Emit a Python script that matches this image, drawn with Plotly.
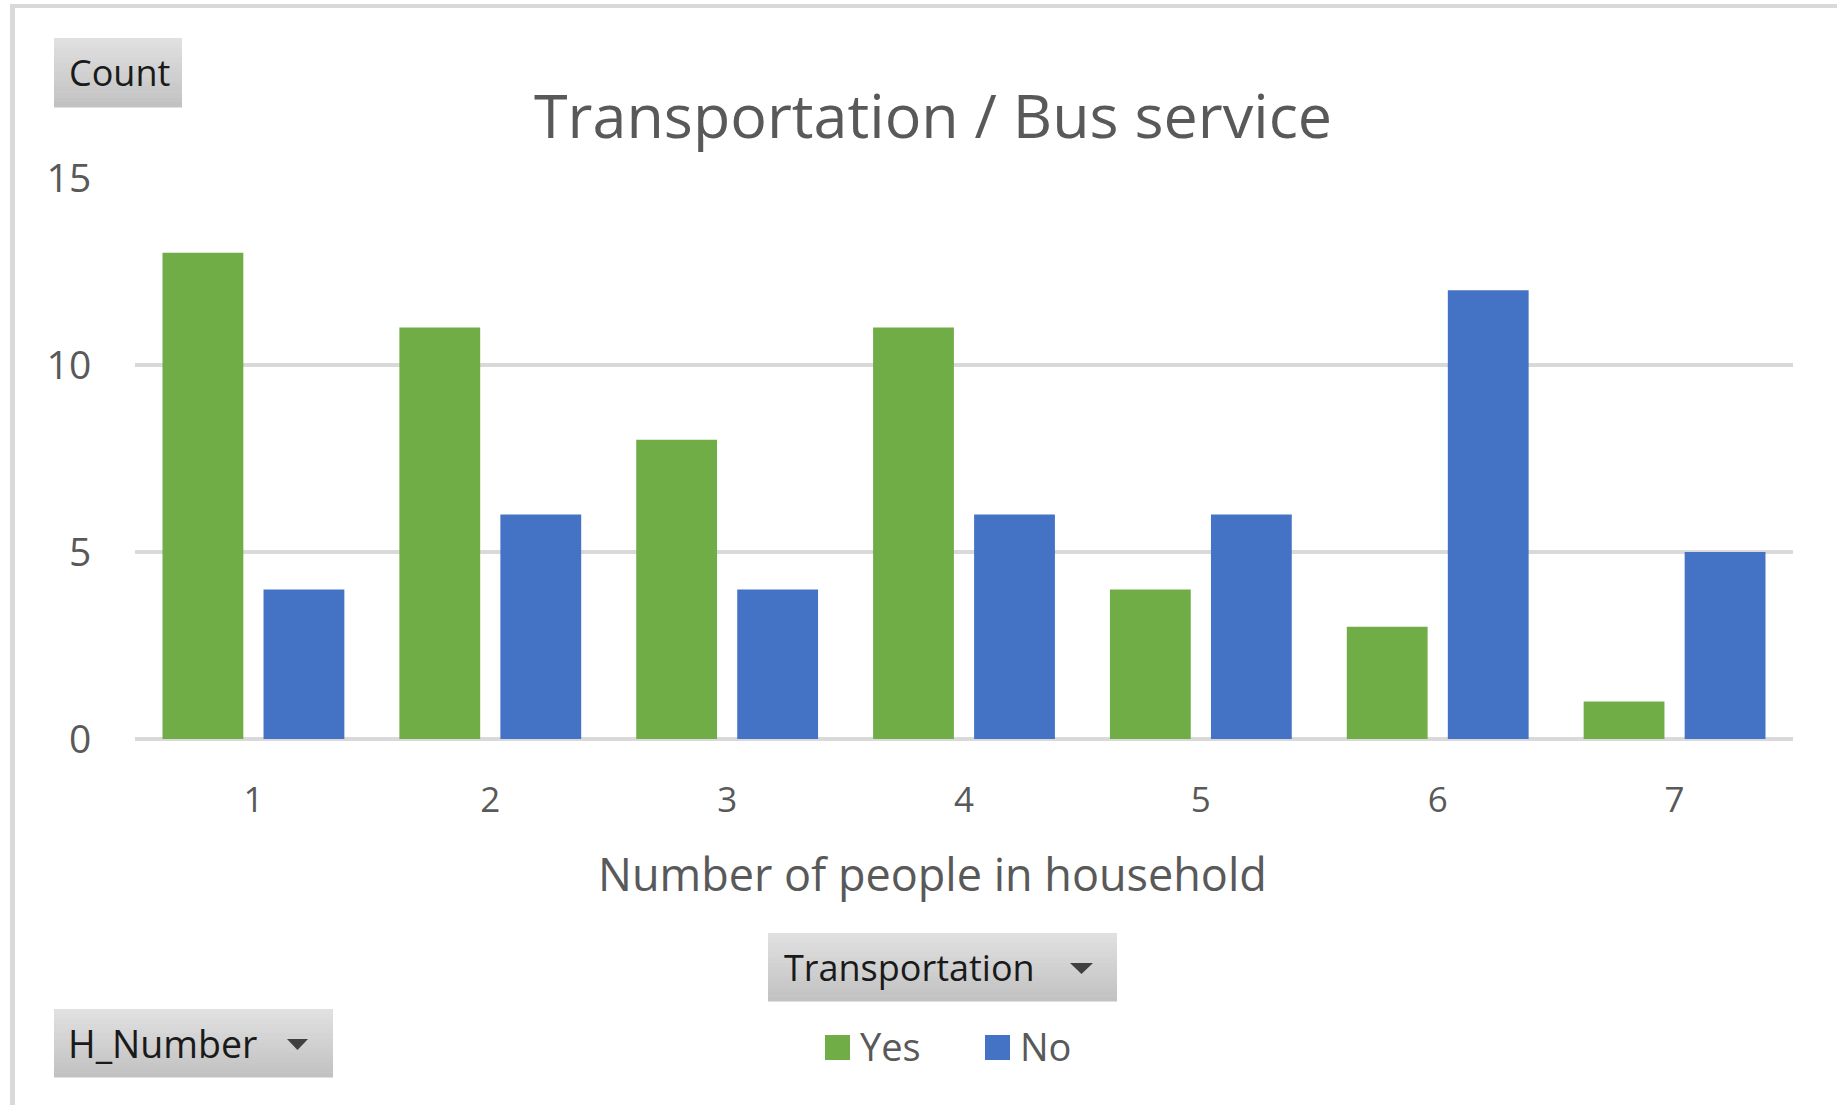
import plotly.graph_objects as go

# ---- data ----
categories = ["1", "2", "3", "4", "5", "6", "7"]
yes_counts = [13, 11, 8, 11, 4, 3, 1]
no_counts = [4, 6, 4, 6, 6, 12, 5]
series_names = ["Yes", "No"]
series_colors = ["#70AD47", "#4472C4"]
y_ticks = [0, 5, 10, 15]

title_text = "Transportation / Bus service"
x_title = "Number of people in household"

W, H = 1837, 1105
L, R, T, B = 135, 1793, 178, 739


def fx(px):
    return (px - L) / (R - L)


def fy(py):
    return (B - py) / (B - T)


fig = go.Figure()
for name, vals, col in zip(series_names, [yes_counts, no_counts], series_colors):
    fig.add_trace(go.Bar(x=categories, y=vals, name=name,
                         marker=dict(color=col, line=dict(width=0)),
                         showlegend=False))

FONT = "Open Sans"
GREY = "#595959"

shapes = []
annotations = []

# chart border (top and left)
shapes.append(dict(type="rect", xref="paper", yref="paper",
                   x0=fx(10), x1=fx(W + 5), y0=fy(4), y1=fy(8),
                   fillcolor="#D9D9D9", line=dict(width=0), layer="below"))
shapes.append(dict(type="rect", xref="paper", yref="paper",
                   x0=fx(10), x1=fx(15), y0=fy(4), y1=fy(H + 5),
                   fillcolor="#D9D9D9", line=dict(width=0), layer="below"))


def button(x0, y0, x1, y1, n=14):
    top = (224, 224, 224)
    bot = (194, 194, 194)
    h = (y1 - y0) / n
    for i in range(n):
        t = i / (n - 1)
        c = tuple(round(a + (b - a) * t) for a, b in zip(top, bot))
        shapes.append(dict(type="rect", xref="paper", yref="paper",
                           x0=fx(x0), x1=fx(x1),
                           y0=fy(y0 + i * h), y1=fy(y0 + (i + 1) * h + 0.6),
                           fillcolor="rgb(%d,%d,%d)" % c, line=dict(width=0)))


def arrow(x0, x1, y0, y1):
    xm = (x0 + x1) / 2
    path = "M %f,%f L %f,%f L %f,%f Z" % (fx(x0), fy(y0), fx(x1), fy(y0), fx(xm), fy(y1))
    shapes.append(dict(type="path", xref="paper", yref="paper", path=path,
                       fillcolor="#404040", line=dict(width=0)))


def label(text, x, y, size, color, anchor="left", family=FONT):
    annotations.append(dict(text=text, xref="paper", yref="paper",
                            x=fx(x), y=fy(y), xanchor=anchor, yanchor="middle",
                            showarrow=False,
                            font=dict(family=family, size=size, color=color)))


# Count button
button(54, 38, 182, 107)
label("Count", 67, 73, 36, "#1a1a1a")

# Transportation button
button(768, 933, 1117, 1001)
label("Transportation", 782, 967, 36, "#1a1a1a")
arrow(1070, 1093, 963, 974)

# H_Number button
button(54, 1009, 333, 1077)
label("H_Number", 66, 1043, 37.5, "#1a1a1a")
arrow(287, 308, 1039, 1050)

# legend (manual)
leg_sq = [(825, 850), (985, 1010)]
leg_tx = [858, 1018]
for (a, b), tx, nm, col in zip(leg_sq, leg_tx, series_names, series_colors):
    shapes.append(dict(type="rect", xref="paper", yref="paper",
                       x0=fx(a), x1=fx(b), y0=fy(1035), y1=fy(1060),
                       fillcolor=col, line=dict(width=0)))
    label(nm, tx, 1046, 38, GREY)

# chart title
label(title_text, 933, 114, 61, GREY, anchor="center")
# x axis title
label(x_title, 932, 873, 45, GREY, anchor="center")

fig.update_layout(
    width=W, height=H,
    margin=dict(l=L, r=W - R, t=T, b=H - B, pad=0),
    paper_bgcolor="white", plot_bgcolor="white",
    barmode="group", bargap=0.147, bargroupgap=0.2,
    shapes=shapes, annotations=annotations,
    font=dict(family=FONT, color=GREY),
    xaxis=dict(type="category", showgrid=False, zeroline=False, showline=False,
               ticks="outside", ticklen=30, tickcolor="rgba(0,0,0,0)",
               tickfont=dict(family=FONT, size=35, color=GREY)),
    yaxis=dict(range=[0, 15], tickvals=y_ticks, showgrid=True,
               gridcolor="#D9D9D9", gridwidth=3.5,
               zeroline=True, zerolinecolor="#D9D9D9", zerolinewidth=3.5,
               showline=False, ticks="outside", ticklen=35,
               tickcolor="rgba(0,0,0,0)",
               tickfont=dict(family=FONT, size=39, color=GREY)),
)

fig.write_html("out.html", config={"displayModeBar": False},
               post_script="document.body.style.margin='0';")
